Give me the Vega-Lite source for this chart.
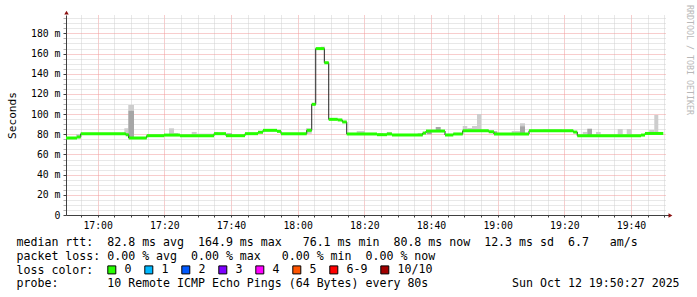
{
  "$schema": "https://vega.github.io/schema/vega-lite/v6.json",
  "width": 600,
  "height": 200,
  "autosize": "none",
  "padding": {"left": 66, "top": 15, "right": 31, "bottom": 82},
  "background": "#ffffff",
  "config": {"view": {"stroke": null}},
  "title": {"text": "RRDTOOL / TOBI OETIKER", "orient": "right", "anchor": "start", "frame": "group", "font": "DejaVu Sans Mono", "fontSize": 8.3, "fontWeight": "normal", "color": "#b8b8b8", "offset": 7, "dx": -10},
  "datasets": {
    "median": [
      {"t0": "2025-10-12 16:50:30", "t1": "2025-10-12 16:53:48", "ms": 76.3, "loss": "0"},
      {"t0": "2025-10-12 16:53:48", "t1": "2025-10-12 16:54:55", "ms": 77.3, "loss": "0"},
      {"t0": "2025-10-12 16:54:55", "t1": "2025-10-12 17:08:25", "ms": 80.5, "loss": "0"},
      {"t0": "2025-10-12 17:08:25", "t1": "2025-10-12 17:09:19", "ms": 79.5, "loss": "0"},
      {"t0": "2025-10-12 17:09:19", "t1": "2025-10-12 17:14:43", "ms": 76.3, "loss": "0"},
      {"t0": "2025-10-12 17:14:43", "t1": "2025-10-12 17:19:54", "ms": 78.6, "loss": "0"},
      {"t0": "2025-10-12 17:19:54", "t1": "2025-10-12 17:24:42", "ms": 79.2, "loss": "0"},
      {"t0": "2025-10-12 17:24:42", "t1": "2025-10-12 17:34:54", "ms": 78.6, "loss": "0"},
      {"t0": "2025-10-12 17:34:54", "t1": "2025-10-12 17:38:30", "ms": 80.6, "loss": "0"},
      {"t0": "2025-10-12 17:38:30", "t1": "2025-10-12 17:44:12", "ms": 78.6, "loss": "0"},
      {"t0": "2025-10-12 17:44:12", "t1": "2025-10-12 17:48:06", "ms": 80.6, "loss": "0"},
      {"t0": "2025-10-12 17:48:06", "t1": "2025-10-12 17:49:36", "ms": 82.0, "loss": "0"},
      {"t0": "2025-10-12 17:49:36", "t1": "2025-10-12 17:53:48", "ms": 83.9, "loss": "0"},
      {"t0": "2025-10-12 17:53:48", "t1": "2025-10-12 17:55:00", "ms": 82.9, "loss": "0"},
      {"t0": "2025-10-12 17:55:00", "t1": "2025-10-12 18:02:43", "ms": 80.5, "loss": "0"},
      {"t0": "2025-10-12 18:02:43", "t1": "2025-10-12 18:04:13", "ms": 83.9, "loss": "0"},
      {"t0": "2025-10-12 18:04:13", "t1": "2025-10-12 18:05:25", "ms": 109.7, "loss": "0"},
      {"t0": "2025-10-12 18:05:25", "t1": "2025-10-12 18:08:00", "ms": 164.9, "loss": "0"},
      {"t0": "2025-10-12 18:08:00", "t1": "2025-10-12 18:09:19", "ms": 150.9, "loss": "0"},
      {"t0": "2025-10-12 18:09:19", "t1": "2025-10-12 18:12:01", "ms": 94.8, "loss": "0"},
      {"t0": "2025-10-12 18:12:01", "t1": "2025-10-12 18:13:23", "ms": 94.2, "loss": "0"},
      {"t0": "2025-10-12 18:13:23", "t1": "2025-10-12 18:14:43", "ms": 92.2, "loss": "0"},
      {"t0": "2025-10-12 18:14:43", "t1": "2025-10-12 18:23:48", "ms": 80.3, "loss": "0"},
      {"t0": "2025-10-12 18:23:48", "t1": "2025-10-12 18:26:48", "ms": 79.6, "loss": "0"},
      {"t0": "2025-10-12 18:26:48", "t1": "2025-10-12 18:28:18", "ms": 80.3, "loss": "0"},
      {"t0": "2025-10-12 18:28:18", "t1": "2025-10-12 18:37:31", "ms": 79.3, "loss": "0"},
      {"t0": "2025-10-12 18:37:31", "t1": "2025-10-12 18:38:30", "ms": 81.2, "loss": "0"},
      {"t0": "2025-10-12 18:38:30", "t1": "2025-10-12 18:44:12", "ms": 83.2, "loss": "0"},
      {"t0": "2025-10-12 18:44:12", "t1": "2025-10-12 18:46:41", "ms": 79.3, "loss": "0"},
      {"t0": "2025-10-12 18:46:41", "t1": "2025-10-12 18:49:31", "ms": 80.3, "loss": "0"},
      {"t0": "2025-10-12 18:49:31", "t1": "2025-10-12 18:57:19", "ms": 83.5, "loss": "0"},
      {"t0": "2025-10-12 18:57:19", "t1": "2025-10-12 18:58:54", "ms": 82.5, "loss": "0"},
      {"t0": "2025-10-12 18:58:54", "t1": "2025-10-12 19:09:24", "ms": 80.3, "loss": "0"},
      {"t0": "2025-10-12 19:09:24", "t1": "2025-10-12 19:22:41", "ms": 83.5, "loss": "0"},
      {"t0": "2025-10-12 19:22:41", "t1": "2025-10-12 19:23:53", "ms": 82.2, "loss": "0"},
      {"t0": "2025-10-12 19:23:53", "t1": "2025-10-12 19:43:00", "ms": 78.6, "loss": "0"},
      {"t0": "2025-10-12 19:43:00", "t1": "2025-10-12 19:44:12", "ms": 79.2, "loss": "0"},
      {"t0": "2025-10-12 19:44:12", "t1": "2025-10-12 19:49:41", "ms": 80.8, "loss": "0"}
    ],
    "smokeLight": [
      {"t0": "2025-10-12 16:53:30", "t1": "2025-10-12 16:54:55", "lo": 76.0, "hi": 80.3},
      {"t0": "2025-10-12 17:08:00", "t1": "2025-10-12 17:09:11", "lo": 80.0, "hi": 85.9},
      {"t0": "2025-10-12 17:09:11", "t1": "2025-10-12 17:10:54", "lo": 103.4, "hi": 109.0},
      {"t0": "2025-10-12 17:21:24", "t1": "2025-10-12 17:22:54", "lo": 78.6, "hi": 85.9},
      {"t0": "2025-10-12 17:22:54", "t1": "2025-10-12 17:24:12", "lo": 78.6, "hi": 81.3},
      {"t0": "2025-10-12 17:28:13", "t1": "2025-10-12 17:29:43", "lo": 78.6, "hi": 82.3},
      {"t0": "2025-10-12 17:29:43", "t1": "2025-10-12 17:34:54", "lo": 78.6, "hi": 80.6},
      {"t0": "2025-10-12 17:34:54", "t1": "2025-10-12 17:36:11", "lo": 80.6, "hi": 82.3},
      {"t0": "2025-10-12 18:02:30", "t1": "2025-10-12 18:04:13", "lo": 80.5, "hi": 85.9},
      {"t0": "2025-10-12 18:07:00", "t1": "2025-10-12 18:08:12", "lo": 164.9, "hi": 166.8},
      {"t0": "2025-10-12 18:17:43", "t1": "2025-10-12 18:20:12", "lo": 80.3, "hi": 83.2},
      {"t0": "2025-10-12 18:24:06", "t1": "2025-10-12 18:25:36", "lo": 79.6, "hi": 81.2},
      {"t0": "2025-10-12 18:26:43", "t1": "2025-10-12 18:28:13", "lo": 80.3, "hi": 82.3},
      {"t0": "2025-10-12 18:36:01", "t1": "2025-10-12 18:37:31", "lo": 79.3, "hi": 81.3},
      {"t0": "2025-10-12 18:49:31", "t1": "2025-10-12 18:50:53", "lo": 83.5, "hi": 88.2},
      {"t0": "2025-10-12 18:50:53", "t1": "2025-10-12 18:52:18", "lo": 83.5, "hi": 86.2},
      {"t0": "2025-10-12 18:52:18", "t1": "2025-10-12 18:53:48", "lo": 83.5, "hi": 88.2},
      {"t0": "2025-10-12 18:53:48", "t1": "2025-10-12 18:55:05", "lo": 83.5, "hi": 100.1},
      {"t0": "2025-10-12 19:04:13", "t1": "2025-10-12 19:06:42", "lo": 80.3, "hi": 83.2},
      {"t0": "2025-10-12 19:06:42", "t1": "2025-10-12 19:08:12", "lo": 88.0, "hi": 90.9},
      {"t0": "2025-10-12 19:13:36", "t1": "2025-10-12 19:19:18", "lo": 83.5, "hi": 84.8},
      {"t0": "2025-10-12 19:25:31", "t1": "2025-10-12 19:26:53", "lo": 78.6, "hi": 82.3},
      {"t0": "2025-10-12 19:29:30", "t1": "2025-10-12 19:30:55", "lo": 78.6, "hi": 82.3},
      {"t0": "2025-10-12 19:36:01", "t1": "2025-10-12 19:37:31", "lo": 78.6, "hi": 85.2},
      {"t0": "2025-10-12 19:38:43", "t1": "2025-10-12 19:40:13", "lo": 78.6, "hi": 85.2},
      {"t0": "2025-10-12 19:45:29", "t1": "2025-10-12 19:46:59", "lo": 80.6, "hi": 84.2},
      {"t0": "2025-10-12 19:46:59", "t1": "2025-10-12 19:48:11", "lo": 80.6, "hi": 99.1}
    ],
    "smokeDark": [
      {"t0": "2025-10-12 17:09:11", "t1": "2025-10-12 17:10:54", "lo": 76.0, "hi": 103.4},
      {"t0": "2025-10-12 17:38:43", "t1": "2025-10-12 17:40:18", "lo": 78.0, "hi": 81.0},
      {"t0": "2025-10-12 18:38:43", "t1": "2025-10-12 18:40:13", "lo": 80.0, "hi": 83.2},
      {"t0": "2025-10-12 18:41:25", "t1": "2025-10-12 18:42:55", "lo": 83.2, "hi": 87.2},
      {"t0": "2025-10-12 18:58:41", "t1": "2025-10-12 18:59:53", "lo": 80.0, "hi": 83.0},
      {"t0": "2025-10-12 19:06:42", "t1": "2025-10-12 19:08:12", "lo": 80.3, "hi": 88.0},
      {"t0": "2025-10-12 19:26:53", "t1": "2025-10-12 19:28:18", "lo": 78.6, "hi": 85.5}
    ],
    "axisEndX": [{"t0": "2025-10-12 19:50:30", "t1": "2025-10-12 19:52:00", "v": 0}],
    "arrowUp": [{"t": "2025-10-12 16:50:30", "v": 200.6}],
    "arrowRight": [{"t": "2025-10-12 19:51:50", "v": 0}]
  },
  "layer": [
    {
      "data": {"name": "smokeLight"},
      "mark": {"type": "rect", "color": "#cdcdcd"},
      "encoding": {
        "x": {
          "field": "t0", "type": "temporal",
          "scale": {"domain": [{"year": 2025, "month": 10, "date": 12, "hours": 16, "minutes": 50, "seconds": 30}, {"year": 2025, "month": 10, "date": 12, "hours": 19, "minutes": 50, "seconds": 30}], "nice": false},
          "axis": {
            "orient": "bottom",
            "tickCount": 36,
            "labelExpr": "minutes(datum.value) % 20 == 0 ? timeFormat(datum.value, '%H:%M') : ''",
            "labelOverlap": false, "labelFlush": false,
            "labelFont": "DejaVu Sans Mono", "labelFontSize": 9.8, "labelColor": "#000000",
            "labelPadding": 3, "labelBaseline": "top", "labelAlign": "center",
            "tickSize": 2, "tickColor": "#404040",
            "domain": true, "domainColor": "#404040",
            "grid": true,
            "gridColor": {"condition": {"test": "minutes(datum.value) % 20 == 0", "value": "#f09a9a"}, "value": "#d0d0d0"},
            "gridDash": [1, 1],
            "title": [
              "median\u00a0rtt:\u00a0\u00a082.8\u00a0ms\u00a0avg\u00a0\u00a0164.9\u00a0ms\u00a0max\u00a0\u00a0\u00a076.1\u00a0ms\u00a0min\u00a0\u00a080.8\u00a0ms\u00a0now\u00a0\u00a012.3\u00a0ms\u00a0sd\u00a0\u00a06.7\u00a0\u00a0\u00a0am/s",
              "packet\u00a0loss:\u00a00.00\u00a0%\u00a0avg\u00a0\u00a00.00\u00a0%\u00a0max\u00a0\u00a0\u00a00.00\u00a0%\u00a0min\u00a0\u00a00.00\u00a0%\u00a0now",
              "loss\u00a0color:",
              "probe:\u00a0\u00a0\u00a0\u00a0\u00a0\u00a0\u00a010\u00a0Remote\u00a0ICMP\u00a0Echo\u00a0Pings\u00a0(64\u00a0Bytes)\u00a0every\u00a080s\u00a0\u00a0\u00a0\u00a0\u00a0\u00a0\u00a0\u00a0\u00a0\u00a0\u00a0\u00a0Sun\u00a0Oct\u00a012\u00a019:50:27\u00a02025"
            ],
            "titleX": -50, "titleY": 30.3, "titleAlign": "left", "titleBaseline": "alphabetic",
            "titleFont": "DejaVu Sans Mono", "titleFontSize": 11.6, "titleFontWeight": "normal", "titleColor": "#000000", "titleLineHeight": 13.9
          }
        },
        "x2": {"field": "t1"},
        "y": {
          "field": "lo", "type": "quantitative",
          "scale": {"domain": [0, 198.2], "nice": false, "zero": false},
          "axis": {
            "orient": "left",
            "tickCount": 40,
            "labelExpr": "datum.value % 20 == 0 ? (datum.value == 0 ? '0\u00a0\u00a0' : datum.value + '\u00a0m') : ''",
            "labelOverlap": false, "labelFlush": false,
            "labelFont": "DejaVu Sans Mono", "labelFontSize": 9.8, "labelColor": "#000000",
            "labelPadding": 3, "tickSize": 3,
            "tickColor": {"condition": {"test": "datum.value % 20 == 0", "value": "#404040"}, "value": "#b0b0b0"},
            "domain": true, "domainColor": "#404040",
            "grid": true,
            "gridColor": {"condition": {"test": "datum.value % 20 == 0", "value": "#f09a9a"}, "value": "#d0d0d0"},
            "gridDash": [1, 1],
            "title": "Seconds", "titleX": -50.5, "titleY": 100, "titleAngle": 270, "titleAlign": "center", "titleBaseline": "alphabetic",
            "titleFont": "DejaVu Sans Mono", "titleFontSize": 11.1, "titleFontWeight": "normal", "titleColor": "#000000"
          }
        },
        "y2": {"field": "hi"}
      }
    },
    {
      "data": {"name": "smokeDark"},
      "mark": {"type": "rect", "color": "#a6a6a6"},
      "encoding": {
        "x": {"field": "t0", "type": "temporal"},
        "x2": {"field": "t1"},
        "y": {"field": "lo", "type": "quantitative"},
        "y2": {"field": "hi"}
      }
    },
    {
      "data": {"name": "median"},
      "mark": {"type": "rect", "opacity": 0},
      "encoding": {
        "x": {"field": "t0", "type": "temporal"},
        "x2": {"field": "t1"},
        "y": {"field": "ms", "type": "quantitative"},
        "y2": {"field": "ms"},
        "color": {
          "field": "loss", "type": "nominal",
          "scale": {"domain": ["0", "1", "2", "3", "4", "5", "6-9", "10/10"], "range": ["#26ff00", "#00b8ff", "#0059ff", "#7e00ff", "#ff00ff", "#ff5500", "#ff0000", "#a10000"]},
          "legend": {
            "title": null, "orient": "none", "legendX": 40, "legendY": 249, "direction": "horizontal",
            "symbolType": "square", "symbolSize": 64, "symbolStrokeWidth": 1, "symbolStrokeColor": "#000000", "symbolOpacity": 1,
            "labelFont": "DejaVu Sans Mono", "labelFontSize": 11.6, "labelColor": "#000000", "labelOffset": 7,
            "columnPadding": 10, "padding": 0
          }
        }
      }
    },
    {
      "data": {"name": "median"},
      "mark": {"type": "line", "interpolate": "step-after", "color": "#202020", "strokeWidth": 1},
      "encoding": {
        "x": {"field": "t0", "type": "temporal"},
        "y": {"field": "ms", "type": "quantitative"}
      }
    },
    {
      "data": {"name": "median"},
      "mark": {"type": "rule", "strokeWidth": 3, "color": "#26ff00"},
      "encoding": {
        "x": {"field": "t0", "type": "temporal"},
        "x2": {"field": "t1"},
        "y": {"field": "ms", "type": "quantitative"}
      }
    },
    {
      "data": {"name": "axisEndX"},
      "mark": {"type": "rule", "color": "#404040", "strokeWidth": 1, "yOffset": 0.5},
      "encoding": {
        "x": {"field": "t0", "type": "temporal"},
        "x2": {"field": "t1"},
        "y": {"field": "v", "type": "quantitative"}
      }
    },
    {
      "data": {"name": "arrowUp"},
      "mark": {"type": "point", "shape": "triangle-up", "filled": true, "color": "#8b1010", "opacity": 1, "size": 20, "xOffset": 0.5},
      "encoding": {
        "x": {"field": "t", "type": "temporal"},
        "y": {"field": "v", "type": "quantitative"}
      }
    },
    {
      "data": {"name": "arrowRight"},
      "mark": {"type": "point", "shape": "triangle-right", "filled": true, "color": "#8b1010", "opacity": 1, "size": 20, "yOffset": 0.5},
      "encoding": {
        "x": {"field": "t", "type": "temporal"},
        "y": {"field": "v", "type": "quantitative"}
      }
    }
  ]
}
